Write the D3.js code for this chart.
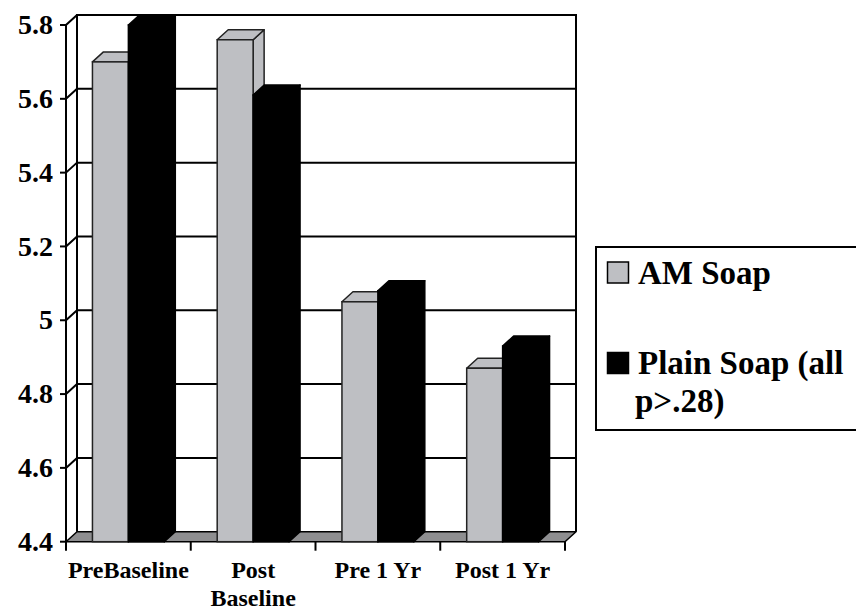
<!DOCTYPE html>
<html>
<head>
<meta charset="utf-8">
<script src="https://cdn.jsdelivr.net/npm/d3@7"></script>
<style>
  html, body { margin: 0; padding: 0; background: #fff; }
  svg { display: block; }
</style>
</head>
<body>
<svg id="chart" width="856" height="611"></svg>
<script>
// ---- data ----
const categories = ["PreBaseline", "Post\nBaseline", "Pre 1 Yr", "Post 1 Yr"];
const seriesNames = ["AM Soap", "Plain Soap (all\np>.28)"];
const amSoap = [5.70, 5.76, 5.05, 4.87];
const plainSoap = [5.80, 5.61, 5.08, 4.93];
const yTicks = [4.4, 4.6, 4.8, 5.0, 5.2, 5.4, 5.6, 5.8];
const yTickLabels = ["4.4", "4.6", "4.8", "5", "5.2", "5.4", "5.6", "5.8"];
const seriesColors = ["#bebfc3", "#000000"];

(function () {
const FONT = "Liberation Serif";
const svg = d3.select("#chart");
const pLeft = 66, pRight = 565, pTop = 25, pBottom = 541.7;
const dx = 11, dy = -10; // depth offset
const floorColor = "#8e8e90";

const y = d3.scaleLinear().domain([4.4, 5.8]).range([pBottom, pTop]);
const x0 = d3.scaleBand().domain(d3.range(categories.length)).range([pLeft, pRight]).padding(0);
const gapRatio = 0.212;
const x1 = d3.scaleBand().domain([0, 1])
  .range([x0.bandwidth() * gapRatio, x0.bandwidth() * (1 - gapRatio)]).padding(0);

const series = [amSoap, plainSoap];

// left side wall
svg.append("path")
  .attr("d", `M${pLeft},${pBottom} L${pLeft},${pTop} L${pLeft + dx},${pTop + dy} L${pLeft + dx},${pBottom + dy} Z`)
  .attr("fill", "#fff").attr("stroke", "none");
// back wall
svg.append("rect")
  .attr("x", pLeft + dx).attr("y", pTop + dy)
  .attr("width", pRight - pLeft).attr("height", pBottom - pTop)
  .attr("fill", "#fff");

// gridlines (back wall + side wall)
yTicks.filter(t => t > 4.4 && t < 5.8).forEach(t => {
  svg.append("path")
    .attr("d", `M${pLeft},${y(t)} L${pLeft + dx},${y(t) + dy} L${pRight + dx},${y(t) + dy}`)
    .attr("fill", "none").attr("stroke", "#000").attr("stroke-width", 2);
});
// back wall frame
svg.append("path")
  .attr("d", `M${pLeft + dx},${pBottom + dy} L${pLeft + dx},${pTop + dy} L${pRight + dx},${pTop + dy} L${pRight + dx},${pBottom + dy}`)
  .attr("fill", "none").attr("stroke", "#000").attr("stroke-width", 2);
// side wall frame
svg.append("path")
  .attr("d", `M${pLeft},${pBottom} L${pLeft},${pTop} L${pLeft + dx},${pTop + dy}`)
  .attr("fill", "none").attr("stroke", "#000").attr("stroke-width", 2);

// floor
svg.append("path")
  .attr("d", `M${pLeft},${pBottom} L${pRight},${pBottom} L${pRight + dx},${pBottom + dy} L${pLeft + dx},${pBottom + dy} Z`)
  .attr("fill", floorColor).attr("stroke", "#000").attr("stroke-width", 1.5).attr("stroke-linejoin", "round");

// bars
categories.forEach((c, i) => {
  series.forEach((vals, s) => {
    const xl = x0(i) + x1(s);
    const w = x1.bandwidth();
    const yt = y(vals[i]);
    const col = seriesColors[s];
    const g = svg.append("g");
    const stroke = s === 0 ? "#222" : "#000";
    g.append("path")
      .attr("d", `M${xl + w},${pBottom} L${xl + w},${yt} L${xl + w + dx},${yt + dy} L${xl + w + dx},${pBottom + dy} Z`)
      .attr("fill", col).attr("stroke", stroke).attr("stroke-width", 1.5).attr("stroke-linejoin", "round");
    g.append("path")
      .attr("d", `M${xl},${yt} L${xl + dx},${yt + dy} L${xl + w + dx},${yt + dy} L${xl + w},${yt} Z`)
      .attr("fill", col).attr("stroke", stroke).attr("stroke-width", 1.5).attr("stroke-linejoin", "round");
    g.append("rect")
      .attr("x", xl).attr("y", yt).attr("width", w).attr("height", pBottom - yt)
      .attr("fill", col).attr("stroke", stroke).attr("stroke-width", 1.5);
  });
});

// y axis ticks + labels
yTicks.forEach((t, k) => {
  svg.append("line")
    .attr("x1", pLeft - 6).attr("x2", pLeft).attr("y1", y(t)).attr("y2", y(t))
    .attr("stroke", "#000").attr("stroke-width", 2);
  svg.append("text")
    .attr("x", 53).attr("y", y(t)).attr("dy", "0.33em")
    .attr("text-anchor", "end").attr("font-size", 28)
    .attr("font-family", FONT).attr("font-weight", "bold")
    .text(yTickLabels[k]);
});

// x axis ticks
d3.range(categories.length + 1).forEach(i => {
  const xx = i < categories.length ? x0(i) : pRight;
  svg.append("line")
    .attr("x1", xx).attr("x2", xx).attr("y1", pBottom).attr("y2", pBottom + 9)
    .attr("stroke", "#000").attr("stroke-width", 2);
});
// x labels
categories.forEach((c, i) => {
  const cx = x0(i) + x0.bandwidth() / 2;
  const t = svg.append("text")
    .attr("x", cx).attr("y", 578)
    .attr("text-anchor", "middle").attr("font-size", 24)
    .attr("font-family", FONT).attr("font-weight", "bold");
  c.split("\n").forEach((line, li) => {
    t.append("tspan").attr("x", cx).attr("dy", li === 0 ? 0 : 28).text(line);
  });
});

// legend
const lg = svg.append("g");
lg.append("rect").attr("x", 596).attr("y", 247).attr("width", 300).attr("height", 183)
  .attr("fill", "#fff").attr("stroke", "#000").attr("stroke-width", 2);
const legY = [283.5, 374];
seriesNames.forEach((n, s) => {
  lg.append("rect").attr("x", 607.5).attr("y", legY[s] - 21.5).attr("width", 21).attr("height", 21)
    .attr("fill", seriesColors[s]).attr("stroke", "#000").attr("stroke-width", 1.5);
  const t = lg.append("text").attr("x", 638).attr("y", legY[s]).attr("font-size", 33)
    .attr("font-family", FONT).attr("font-weight", "bold");
  n.split("\n").forEach((line, li) => {
    t.append("tspan").attr("x", li === 0 ? 638 : 635).attr("dy", li === 0 ? 0 : 38).text(line);
  });
});
})();
</script>
</body>
</html>
